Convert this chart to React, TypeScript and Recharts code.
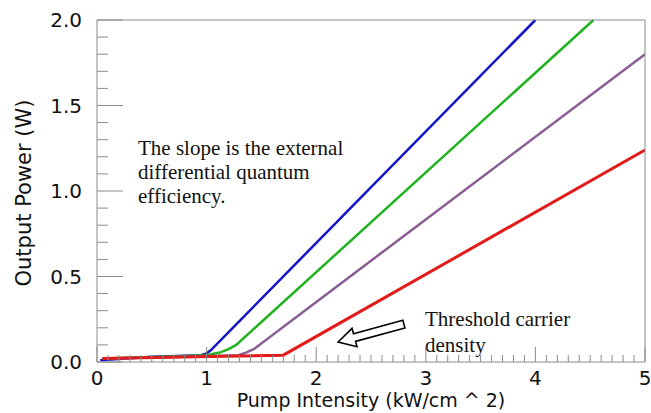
import React from "react";
import {
  LineChart,
  Line,
  XAxis,
  YAxis,
  ReferenceLine,
  Customized,
} from "recharts";

// Output power vs pump intensity for four devices.
const BLUE_X = [0.03, 0.5, 0.95, 1.0, 1.04, 4.0];
const BLUE_Y = [0.01, 0.03, 0.04, 0.05, 0.07, 2.0];
const GREEN_X = [0.05, 0.6, 1.0, 1.12, 1.2, 1.27, 4.53];
const GREEN_Y = [0.02, 0.03, 0.04, 0.055, 0.075, 0.1, 2.0];
const PURPLE_X = [0.05, 0.8, 1.29, 1.36, 1.43, 5.0];
const PURPLE_Y = [0.02, 0.03, 0.04, 0.055, 0.075, 1.8];
const RED_X = [0.05, 0.9, 1.7, 5.0];
const RED_Y = [0.02, 0.03, 0.04, 1.24];

const X_LABELS = [0, 1, 2, 3, 4, 5];
const Y_LABELS = [0, 0.5, 1.0, 1.5, 2.0];

// minor ticks every 0.1 in both directions
const X_TICKS = Array.from({ length: 51 }, (_, i) => i / 10);
const Y_TICKS = Array.from({ length: 21 }, (_, i) => i / 10);

const toPoints = (xs: number[], ys: number[]) =>
  xs.map((x, i) => ({ x, y: ys[i] }));

const SERIES = [
  { name: "blue", color: "#1414c8", data: toPoints(BLUE_X, BLUE_Y) },
  { name: "green", color: "#1fb41f", data: toPoints(GREEN_X, GREEN_Y) },
  { name: "purple", color: "#8a5c94", data: toPoints(PURPLE_X, PURPLE_Y) },
  { name: "red", color: "#e31a1a", data: toPoints(RED_X, RED_Y) },
];

const AXIS = "#8c8c8c";
const SANS = "'DejaVu Sans', sans-serif";
const SERIF = "'Liberation Serif', 'Times New Roman', serif";

const isOn = (v: number, labels: number[]) =>
  labels.some((l) => Math.abs(l - v) < 1e-6);

function XTick(props: any) {
  const { x, y, payload, top } = props;
  const major = isOn(payload.value, X_LABELS);
  const len = major ? 15 : 7;
  const dir = top ? 1 : -1;
  return (
    <g>
      <line x1={x} x2={x} y1={y} y2={y + dir * len} stroke={AXIS} strokeWidth={1} />
      {!top && major && (
        <text
          x={x}
          y={y + 23}
          textAnchor="middle"
          fontFamily={SANS}
          fontSize={20}
          fill="#111"
        >
          {Math.round(payload.value)}
        </text>
      )}
    </g>
  );
}

function YTick(props: any) {
  const { x, y, payload, right } = props;
  const major = isOn(payload.value, Y_LABELS);
  const len = major ? 26 : 11;
  const dir = right ? -1 : 1;
  return (
    <g>
      <line x1={x} x2={x + dir * len} y1={y} y2={y} stroke={AXIS} strokeWidth={1} />
      {!right && major && (
        <text
          x={x - 15}
          y={y + 7}
          textAnchor="end"
          fontFamily={SANS}
          fontSize={20}
          fill="#111"
        >
          {payload.value.toFixed(1)}
        </text>
      )}
    </g>
  );
}

// hollow block arrow pointing at the red threshold knee
function HollowArrow(props: any) {
  const { x1, y1, x2, y2 } = props;
  const dx = x2 - x1;
  const dy = y2 - y1;
  const len = Math.hypot(dx, dy);
  const ux = dx / len;
  const uy = dy / len;
  const nx = -uy;
  const ny = ux;
  const shaft = 4;
  const head = 9.5;
  const headLen = 17;
  const bx = x2 - ux * headLen;
  const by = y2 - uy * headLen;
  const pts = [
    [x1 + nx * shaft, y1 + ny * shaft],
    [bx + nx * shaft, by + ny * shaft],
    [bx + nx * head, by + ny * head],
    [x2, y2],
    [bx - nx * head, by - ny * head],
    [bx - nx * shaft, by - ny * shaft],
    [x1 - nx * shaft, y1 - ny * shaft],
  ]
    .map((p) => p.join(","))
    .join(" ");
  return <polygon points={pts} fill="#fff" stroke="#000" strokeWidth={1.6} />;
}

function Notes() {
  const t = { fontFamily: SERIF, fontSize: 21, fill: "#111" };
  return (
    <g>
      <text x={138} y={155} {...t}>The slope is the external</text>
      <text x={138} y={179} {...t}>differential quantum</text>
      <text x={138} y={203} {...t}>efficiency.</text>
      <text x={425} y={326} {...t}>Threshold carrier</text>
      <text x={425} y={352} {...t}>density</text>
      <text
        x={371}
        y={407}
        textAnchor="middle"
        fontFamily={SANS}
        fontSize={19}
        fill="#111"
      >
        Pump Intensity (kW/cm ^ 2)
      </text>
      <text
        x={0}
        y={0}
        transform="translate(31,193) rotate(-90)"
        textAnchor="middle"
        fontFamily={SANS}
        fontSize={21}
        fill="#111"
      >
        Output Power (W)
      </text>
    </g>
  );
}

export default function App() {
  return (
    <div
      style={{
        position: "absolute",
        left: 0,
        top: 0,
        width: 651,
        height: 413,
        background: "#fff",
      }}
    >
      <LineChart
        width={651}
        height={413}
        margin={{ top: 19, right: 5, bottom: 0, left: 0 }}
      >
        <XAxis
          xAxisId="b"
          dataKey="x"
          type="number"
          domain={[0, 5]}
          ticks={X_TICKS}
          interval={0}
          height={51}
          tickSize={0}
          tickMargin={0}
          tickLine={false}
          axisLine={{ stroke: AXIS }}
          tick={<XTick />}
        />
        <XAxis
          xAxisId="t"
          orientation="top"
          dataKey="x"
          type="number"
          domain={[0, 5]}
          ticks={X_TICKS}
          interval={0}
          height={1}
          tickSize={0}
          tickMargin={0}
          tickLine={false}
          axisLine={{ stroke: AXIS }}
          tick={<XTick top />}
        />
        <YAxis
          yAxisId="l"
          type="number"
          domain={[0, 2]}
          ticks={Y_TICKS}
          interval={0}
          width={97}
          tickSize={0}
          tickMargin={0}
          tickLine={false}
          axisLine={{ stroke: AXIS }}
          tick={<YTick />}
        />
        <YAxis
          yAxisId="r"
          orientation="right"
          type="number"
          domain={[0, 2]}
          ticks={Y_TICKS}
          interval={0}
          width={1}
          tickSize={0}
          tickMargin={0}
          tickLine={false}
          axisLine={{ stroke: AXIS }}
          tick={<YTick right />}
        />
        {SERIES.map((s) => (
          <Line
            key={s.name}
            xAxisId="b"
            yAxisId="l"
            data={s.data}
            dataKey="y"
            type="linear"
            stroke={s.color}
            strokeWidth={s.name === "red" ? 3 : 2.5}
            dot={false}
            isAnimationActive={false}
          />
        ))}
        <ReferenceLine
          xAxisId="b"
          yAxisId="l"
          segment={[
            { x: 2.8, y: 0.222 },
            { x: 2.2, y: 0.117 },
          ]}
          shape={(p: any) => <HollowArrow {...p} />}
        />
        <Customized component={<Notes />} />
      </LineChart>
    </div>
  );
}
